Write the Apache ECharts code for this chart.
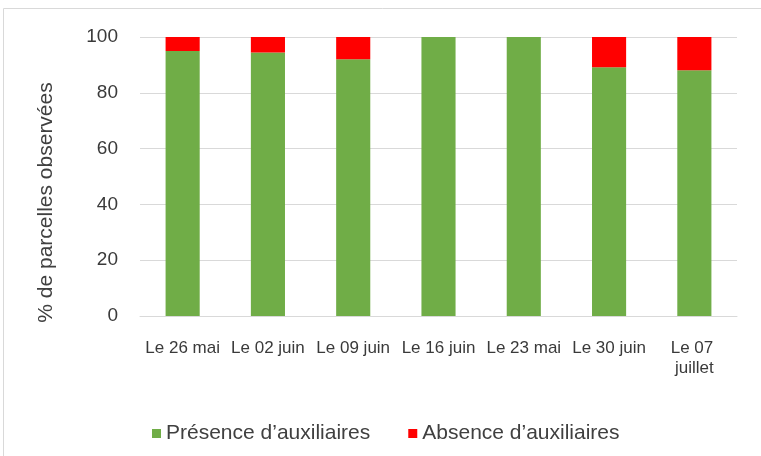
<!DOCTYPE html>
<html><head><meta charset="utf-8">
<script src="https://cdn.jsdelivr.net/npm/echarts@6/dist/echarts.min.js"></script>
<style>html,body{margin:0;padding:0;background:#fff}#c{width:761px;height:456px}</style>
</head><body><div id="c"></div>
<script>
var categories = ['Le 26 mai','Le 02 juin','Le 09 juin','Le 16 juin','Le 23 mai','Le 30 juin','Le 07 juillet'];
var presence = [95, 94.4, 92, 100, 100, 89.2, 88.1];
var absence = [5, 5.6, 8, 0, 0, 10.8, 11.9];
var yTicks = [0, 20, 40, 60, 80, 100];

var chart = echarts.init(document.getElementById('c'), null, {renderer:'canvas'});
var font = 'Liberation Sans, Arial, sans-serif';
chart.setOption({
  animation:false,
  graphic:[{type:'rect', shape:{x:3.5,y:8.5,width:800,height:460}, style:{fill:'none', stroke:'#d9d9d9', lineWidth:1}, silent:true}],
  grid:{left:140, right:24, top:37, bottom:140},
  legend:{
    top:418, left:147, itemWidth:9, itemHeight:9, itemGap:38, icon:'rect',
    textStyle:{fontFamily:font, fontSize:21, color:'#404040'},
    data:['Présence d\u2019auxiliaires','Absence d\u2019auxiliaires']
  },
  xAxis:{
    type:'category', data:categories,
    axisLine:{lineStyle:{color:'#d9d9d9'}}, axisTick:{show:false},
    axisLabel:{interval:0, margin:22, fontFamily:font, fontSize:17, color:'#3a3a3a', width:80, overflow:'break', lineHeight:20}
  },
  yAxis:{
    type:'value', min:yTicks[0], max:yTicks[yTicks.length-1], interval:20,
    name:'% de parcelles observées', nameLocation:'middle', nameGap:83, nameRotate:90,
    nameTextStyle:{fontFamily:font, fontSize:21, color:'#404040', padding:[0,52,0,0]},
    axisLine:{show:false}, axisTick:{show:false},
    axisLabel:{margin:22, fontFamily:font, fontSize:19, color:'#3a3a3a'},
    splitLine:{lineStyle:{color:'#d9d9d9'}}
  },
  series:[
    {name:'Présence d\u2019auxiliaires', type:'bar', stack:'a', data:presence, barWidth:'40%', itemStyle:{color:'#70ad47'}},
    {name:'Absence d\u2019auxiliaires', type:'bar', stack:'a', data:absence, barWidth:'40%', itemStyle:{color:'#ff0000'}}
  ]
});
</script></body></html>
